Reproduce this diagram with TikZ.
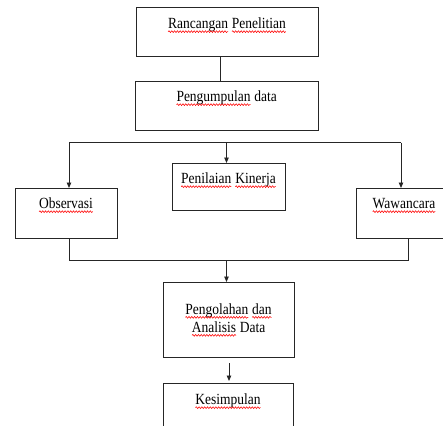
\documentclass[tikz,border=0pt]{standalone}
\usepackage{fontspec}
\setmainfont{Liberation Serif}[FakeStretch=0.87]
\usetikzlibrary{arrows.meta,calc,decorations.pathmorphing}
\newcommand\redwave[1]{\tikz[baseline=(w.base)]{\node[draw=none,fill=none,inner sep=0pt,outer sep=0pt,anchor=base,minimum width=0pt,minimum height=0pt,text height=,text depth=] (w) {#1};
  \draw[red, line width=0.55pt, decorate, decoration={snake, amplitude=0.9pt, segment length=2.8pt}] ([yshift=-3.2pt]w.base west) -- ([yshift=-3.2pt]w.base east);}}
\tikzset{
  box/.style={draw=black!85, line width=0.9pt, anchor=north, inner xsep=0pt, inner ysep=0pt,
    font=\fontsize{15.5}{18}\selectfont},
  conn/.style={draw=black!85, line width=0.9pt},
  arr/.style={conn, -{Triangle[length=5.5pt,width=4.5pt]}}
}
\begin{document}
\begin{tikzpicture}[x=1pt,y=-1pt]
\useasboundingbox (0,0) rectangle (443,425);
% boxes (text baseline ~20 below top)
\node[box, minimum width=182pt, text height=21pt, text depth=28pt] (b1) at (227,7) {\redwave{Rancangan} \redwave{Penelitian}};
\node[box, minimum width=183pt, text height=20pt, text depth=29pt] (b2) at (226.5,81) {\redwave{Pengumpulan} data};
\node[box, minimum width=102pt, text height=20pt, text depth=30pt] (obs) at (66,188) {\redwave{Observasi}};
\node[box, minimum width=113pt, text height=20pt, text depth=27pt] (pen) at (228.5,163) {\redwave{Penilaian} \redwave{Kinerja}};
\node[box, minimum width=96pt, text height=20pt, text depth=30pt] (waw) at (404,188) {\redwave{Wawancara}};
\node[box, minimum width=131pt, minimum height=75pt, align=center] (pg) at (228.5,282) {\redwave{Pengolahan} \redwave{dan}\\\redwave{Analisis} Data};
\node[box, minimum width=130pt, text height=21pt, text depth=36pt] (kes) at (228,383) {\redwave{Kesimpulan}};
% connectors
\draw[conn] ($(b1.south)+(-7,0)$) -- ($(b2.north)+(-6.5,0)$);
\coordinate (tl) at (69,142.5);
\coordinate (tm) at (226.5,142.5);
\coordinate (tr) at (401,142.5);
\draw[conn] (tl) -- (tr);
\draw[arr] (tl) -- (obs.north -| tl);
\draw[arr] (tm) -- (pen.north -| tm);
\draw[arr] (tr) -- (waw.north -| tr);
\coordinate (bl) at (69,260);
\coordinate (bm) at (226.5,260);
\coordinate (br) at (408,260);
\draw[conn] (obs.south -| bl) -- (bl) -- (br) -- (waw.south -| br);
\draw[arr] (bm) -- (pg.north -| bm);
\coordinate (a5) at (229,363);
\draw[arr, shorten >=2pt] (a5) -- (kes.north -| a5);
\end{tikzpicture}
\end{document}
